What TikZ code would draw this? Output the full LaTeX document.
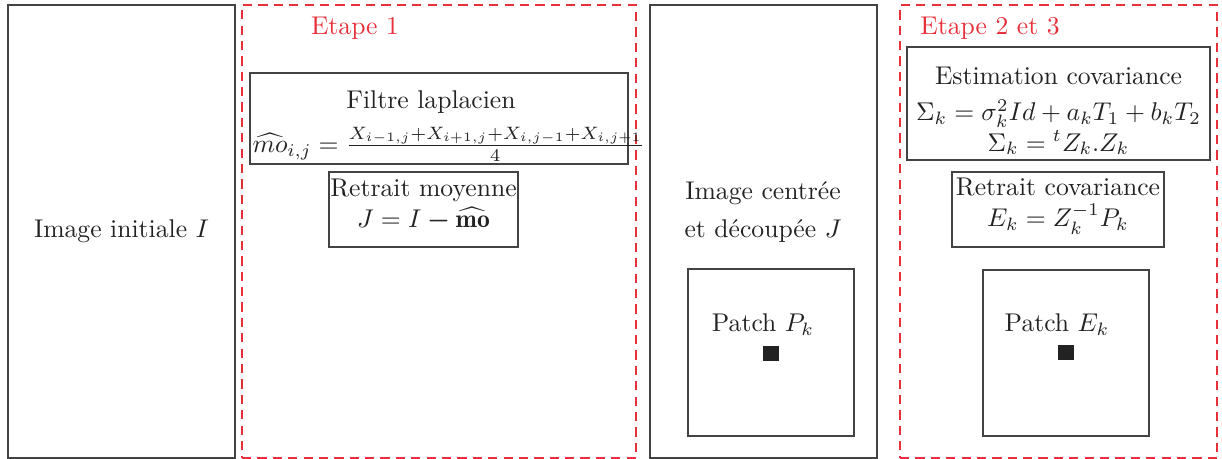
\documentclass[tikz,border=0pt]{standalone}
\usepackage{fontspec}
\usepackage{amsmath, amssymb, bm}
\usetikzlibrary{positioning}
\definecolor{Ink}{HTML}{222222}
\definecolor{Stage}{HTML}{E8303A}
\tikzset{
    frame/.style={rectangle, draw=Ink!85, line width=0.4pt, inner sep=0pt},
    stageframe/.style={rectangle, draw=Stage, dash pattern=on 3.6pt off 2.4pt, line width=0.45pt, inner sep=0pt},
    stagelabel/.style={text=Stage, inner sep=0pt},
    txt/.style={text=Ink, inner sep=0pt, align=center},
    pixel/.style={rectangle, fill=Ink, minimum size=6.2pt, inner sep=0pt},
    boxsize/.style 2 args={minimum width=#1*0.39pt, minimum height=#2*0.39pt},
}

\begin{document}
\begin{tikzpicture}[x=0.39pt, y=-0.39pt]
    \useasboundingbox (0,0) rectangle (1222,459);

    % Cadres principaux
    \node[frame, boxsize={227}{453}] (init) at (121.5,231.5) {};
    \node[stageframe, boxsize={394}{453}] (etape1) at (439,231.5) {};
    \node[frame, boxsize={227}{453}] (centree) at (763.5,231.5) {};
    \node[stageframe, boxsize={317}{453}] (etape23) at (1058.5,231.5) {};

    \node[txt] (initlbl) at (init) {Image initiale $I$};

    % Etape 1
    \node[stagelabel] (etape1lbl) at (355,28) {Etape 1};
    \node[frame, boxsize={378}{91}] (laplace) at (439,118.5) {};
    \node[txt] (laplacetitre) at (431,102) {Filtre laplacien};
    \node[txt, anchor=west] (laplaceform) at (252,144)
        {$\widehat{mo}_{i,j} = \frac{X_{i-1,j}+X_{i+1,j}+X_{i,j-1}+X_{i,j+1}}{4}$};

    \node[frame, boxsize={189}{75}] (moyenne) at (423.5,209.5) {};
    \node[txt] (moyennelbl) at (423.5,205)
        {Retrait moyenne\\ $J = I \mathbin{\boldsymbol{-}} \widehat{\mathbf{mo}}$};

    % Image centree
    \node[txt] (centreelbl) at (763,212) {Image centr\'ee\\[3pt] et d\'ecoup\'ee $J$};
    \node[frame, boxsize={166}{167}] (patchP) at (771,352.5) {};
    \node[txt] (patchPlbl) at (763,325) {Patch $P_k$};
    \node[pixel] (pixP) at (771,353.5) {};

    % Etape 2 et 3
    \node[stagelabel] (etape23lbl) at (990,28) {Etape 2 et 3};
    \node[frame, boxsize={303}{113}] (cov) at (1058.5,103.5) {};
    \node[txt] (covlbl) at (1058.5,111)
        {Estimation covariance\\[2pt] $\Sigma_k = \sigma_k^2 Id + a_k T_1 + b_k T_2$\\ $\Sigma_k = {}^t Z_k . Z_k$};

    \node[frame, boxsize={212}{75}] (retraitcov) at (1058,209.5) {};
    \node[txt] (retraitcovlbl) at (1058,206) {Retrait covariance\\ $E_k = Z_k^{-1} P_k$};

    \node[frame, boxsize={166}{166}] (patchE) at (1066,353) {};
    \node[txt] (patchElbl) at (1057,325) {Patch $E_k$};
    \node[pixel] (pixE) at (1066,352.5) {};
\end{tikzpicture}
\end{document}
